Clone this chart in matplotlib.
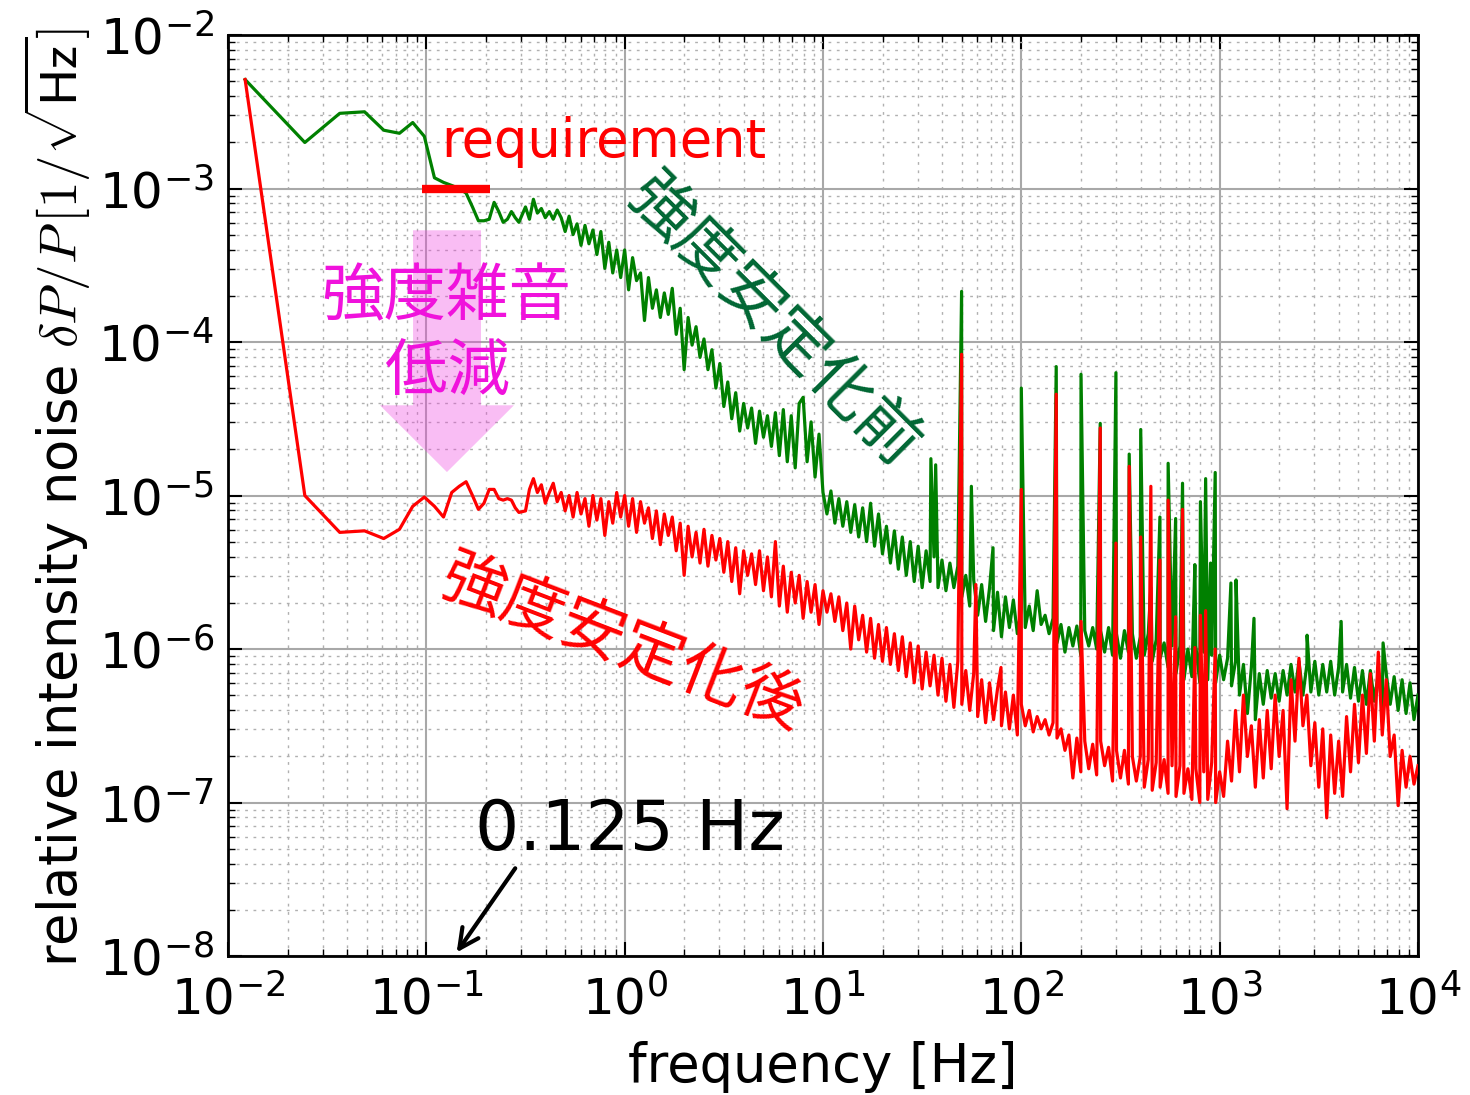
import numpy as np
import matplotlib.pyplot as plt
from matplotlib.patches import Polygon

plt.rcParams['font.family'] = ['DejaVu Sans', 'Noto Sans CJK JP']
plt.rcParams['mathtext.fontset'] = 'cm'

# --- data (values as log10 of dP/P) ---
# low frequency bins, spacing ~0.0122 Hz
low_f = [0.0122, 0.0244, 0.0366, 0.0488, 0.0610, 0.0732, 0.0854, 0.0977,
         0.1099, 0.1221, 0.1343, 0.1465, 0.1587, 0.1709, 0.1831, 0.1953,
         0.2075, 0.2197, 0.2319, 0.2441, 0.2563, 0.2686, 0.2808, 0.2930]
green_low = [-2.29, -2.70, -2.51, -2.50, -2.62, -2.64, -2.57, -2.66,
             -2.93, -2.96, -2.98, -3.00, -3.03, -3.12, -3.21, -3.21,
             -3.20, -3.09, -3.15, -3.22, -3.20, -3.15, -3.19, -3.22]
red_low = [-2.29, -5.00, -5.24, -5.23, -5.28, -5.22, -5.07, -5.01,
           -5.07, -5.14, -4.98, -4.94, -4.91, -5.00, -5.09, -5.05,
           -4.96, -4.96, -5.02, -5.03, -5.02, -5.03, -5.08, -5.11]

green_a = [-3.12, -3.20, -3.07, -3.16, -3.13, -3.19, -3.15, -3.20, -3.14, -3.19,
           -3.28, -3.18, -3.30, -3.23, -3.37, -3.24, -3.36, -3.27, -3.43, -3.28,
           -3.52, -3.35, -3.55, -3.40, -3.58]
green_b = [-3.40, -3.66, -3.45, -3.60, -3.55, -3.86, -3.58, -3.78, -3.66, -3.84,
           -3.68, -3.82, -3.65, -3.95, -3.78, -4.18, -3.84, -4.02, -3.90, -4.10,
           -3.98, -4.18, -4.05, -4.30, -4.14, -4.42, -4.26, -4.50, -4.33, -4.58,
           -4.40, -4.56, -4.43, -4.66, -4.45, -4.62, -4.48, -4.68, -4.46, -4.74,
           -4.44, -4.78, -4.48, -4.82, -4.40, -4.36, -4.78, -4.52, -4.88, -4.60]
green_c = [-4.98, -5.12, -4.97, -5.18, -5.02, -5.20, -5.04, -5.24, -5.06, -5.27,
           -5.08, -5.30, -5.05, -5.33, -5.12, -5.38, -5.20, -5.44, -5.23, -5.48,
           -5.27, -5.52, -5.30, -5.56, -5.33, -5.60, -5.36, -5.56, -5.40, -5.60,
           -5.42, -5.62, -5.44, -5.60, -5.46, -5.66, -5.52, -5.72, -5.55, -5.78,
           -5.58, -5.82, -5.60, -5.88, -5.63, -5.92, -5.66, -5.86, -5.68, -5.90]
green_d = [-5.74, -5.86, -5.72, -5.88, -5.62, -5.84, -5.78, -5.90, -5.80, -5.96,
           -5.84, -6.02, -5.86, -5.98, -5.85, -6.04, -5.88, -5.98, -5.86, -6.00,
           -5.88, -6.02, -5.86, -6.04, -5.90, -6.06, -5.88, -6.02, -5.90, -6.06,
           -5.92, -6.04, -5.90, -6.08, -5.94, -6.06, -5.96, -6.12, -5.98, -6.16,
           -5.98, -6.20, -6.00, -6.18, -5.98, -6.22, -6.02, -6.20, -6.04, -6.22]
green_e = [-6.04, -6.20, -6.06, -6.24, -6.08, -6.30, -6.10, -6.42, -6.12, -6.46,
           -6.16, -6.36, -6.14, -6.32, -6.16, -6.34, -6.14, -6.30, -6.10, -6.28,
           -6.08, -6.30, -6.10, -6.28, -6.08, -6.30, -6.10, -6.28, -6.08, -6.30,
           -6.12, -6.28, -6.10, -6.32, -6.12, -6.34, -6.14, -6.36, -6.14, -6.34,
           -6.16, -6.38, -6.16, -6.36, -6.18, -6.40, -6.20, -6.42, -6.22, -6.46,
           -6.30]

red_a = [-5.10, -4.96, -4.89, -4.98, -4.93, -5.05, -4.98, -4.92, -5.04, -4.98,
         -5.10, -5.00, -5.14, -4.98, -5.12, -5.02, -5.20, -5.00, -5.16, -5.02,
         -5.26, -5.04, -5.18, -4.98, -5.14]
red_b = [-5.00, -5.20, -5.02, -5.24, -5.04, -5.18, -5.08, -5.28, -5.10, -5.32,
         -5.12, -5.26, -5.14, -5.36, -5.18, -5.52, -5.20, -5.40, -5.24, -5.44,
         -5.22, -5.46, -5.26, -5.42, -5.28, -5.50, -5.30, -5.56, -5.34, -5.64,
         -5.36, -5.52, -5.38, -5.58, -5.36, -5.62, -5.40, -5.66, -5.30, -5.72,
         -5.46, -5.76, -5.50, -5.70, -5.52, -5.80, -5.56, -5.76, -5.58, -5.84]
red_c = [-5.62, -5.76, -5.64, -5.82, -5.66, -5.88, -5.70, -6.00, -5.72, -5.94,
         -5.78, -6.02, -5.80, -6.06, -5.84, -6.08, -5.86, -6.10, -5.90, -6.14,
         -5.92, -6.18, -5.96, -6.22, -5.98, -6.26, -6.02, -6.24, -6.04, -6.30,
         -6.06, -6.34, -6.10, -6.38, -6.08, -6.36, -6.14, -6.40, -6.16, -6.44,
         -6.20, -6.48, -6.22, -6.46, -6.26, -6.50, -6.28, -6.52, -6.30, -6.56]
red_d = [-6.36, -6.50, -6.40, -6.54, -6.44, -6.52, -6.46, -6.56, -6.48, -6.58,
         -6.52, -6.66, -6.56, -6.84, -6.58, -6.80, -6.60, -6.78, -6.62, -6.82,
         -6.60, -6.76, -6.64, -6.86, -6.66, -6.84, -6.66, -6.88, -6.70, -6.86,
         -6.70, -6.90, -6.72, -6.92, -6.74, -6.90, -6.72, -6.94, -6.76, -6.96,
         -6.76, -6.94, -6.78, -6.98, -6.78, -7.00, -6.80, -6.98, -6.74, -7.00]
red_e = [-6.80, -6.96, -6.60, -6.86, -6.40, -6.80, -6.30, -6.70, -6.50, -6.90,
         -6.46, -6.84, -6.40, -6.78, -6.30, -6.70, -6.40, -7.04, -6.20, -6.60,
         -6.06, -6.50, -6.30, -6.76, -6.48, -6.90, -6.52, -7.10, -6.56, -6.94,
         -6.60, -6.96, -6.44, -6.80, -6.36, -6.74, -6.30, -6.68, -6.16, -6.60,
         -6.02, -6.56, -6.20, -6.70, -6.56, -7.02, -6.66, -6.90, -6.70, -6.88,
         -6.76]

# line peaks (power line harmonics etc.)
green_spike_f = [35, 37, 50, 56, 72, 100, 150, 200, 250, 300, 350, 400, 450, 500,
                 550, 600, 650, 750, 800, 850, 900, 950, 1140, 1210, 1490, 2760,
                 4100, 6670]
green_spike = [-4.76, -4.80, -3.67, -4.94, -5.34, -4.30, -4.16, -4.21, -4.53, -4.20,
               -4.73, -4.57, -5.60, -5.14, -4.79, -5.15, -4.92, -5.45, -5.04, -4.89,
               -5.44, -4.85, -5.57, -5.55, -5.80, -5.91, -5.82, -5.96]
red_spike_f = [50, 59, 79, 100, 150, 200, 250, 300, 350, 400, 450, 500, 550, 600,
               650, 750, 800, 850, 950]
red_spike = [-4.08, -5.58, -6.12, -4.96, -4.34, -5.82, -4.56, -5.31, -4.81, -5.27,
             -4.94, -5.42, -5.03, -5.79, -5.09, -5.99, -5.78, -5.75, -6.00]

req_f = [0.095, 0.21]
req_val = [1e-3, 1e-3]


def build(low, band, spike_f, spike):
    grid_f = np.logspace(-0.5, 4, len(band))
    f = np.concatenate([low_f, grid_f, spike_f])
    v = 10.0 ** np.concatenate([low, band, spike])
    idx = np.argsort(f)
    return f[idx], v[idx]


green_f, green_v = build(green_low, green_a + green_b + green_c + green_d + green_e,
                         green_spike_f, green_spike)
red_f, red_v = build(red_low, red_a + red_b + red_c + red_d + red_e,
                     red_spike_f, red_spike)

# --- figure ---
fig = plt.figure(figsize=(14.7, 10.95), dpi=100)
ax = fig.add_axes([0.1551, 0.1269, 0.8095, 0.8411])

ax.plot(green_f, green_v, color='#008000', lw=2.3, zorder=4)
ax.plot(red_f, red_v, color='#ff0000', lw=2.3, zorder=5)
ax.plot(req_f, req_val, color='#ff0000', lw=6, solid_capstyle='butt', zorder=5)

ax.set_xscale('log')
ax.set_yscale('log')
ax.set_xlim(1e-2, 1e4)
ax.set_ylim(1e-8, 1e-2)

ax.grid(True, which='major', color='#a8a8a8', lw=1.5, ls='-')
ax.grid(True, which='minor', color='#b0b0b0', lw=1.0, ls=(0, (2, 4)))
ax.set_axisbelow(True)
ax.tick_params(which='both', direction='in', top=True, right=True)
ax.tick_params(which='major', length=10, width=1.5, labelsize=36)
ax.tick_params(axis='x', which='major', pad=14)
ax.tick_params(axis='y', which='major', pad=10)
ax.tick_params(which='minor', length=5, width=1)
for s in ax.spines.values():
    s.set_linewidth(2)

ax.set_xlabel('frequency [Hz]', fontsize=38)
ax.xaxis.set_label_coords(0.5, -0.12)
ax.xaxis.label.set_va('center')
ax.set_ylabel(r'relative intensity noise $\delta P/P\,[1/\sqrt{\mathsf{Hz}}]$', fontsize=38)
ax.yaxis.set_label_coords(-0.143, 0.498)
ax.yaxis.label.set_va('center')

# pink "reduction" arrow (axes fraction)
arrow = Polygon([(0.1555, 0.788), (0.2126, 0.788), (0.2126, 0.598), (0.2403, 0.598),
                 (0.184, 0.5255), (0.1277, 0.598), (0.1555, 0.598)],
                closed=True, transform=ax.transAxes, facecolor='#f040e0',
                edgecolor='none', alpha=0.34, zorder=3)
ax.add_patch(arrow)

jp = ['Noto Sans CJK JP', 'DejaVu Sans']
ax.text(0.1256, 1.96e-4, '強度雑音', color='#f012dc', fontsize=45, family=jp,
        ha='center', va='center', zorder=6)
ax.text(0.1285, 6.4e-5, '低減', color='#f012dc', fontsize=45, family=jp,
        ha='center', va='center', zorder=6)
ax.text(5.53, 1.35e-4, '強度安定化前', color='#006633', fontsize=46, family=jp,
        rotation=-45, rotation_mode='anchor', ha='center', va='center', zorder=6)
ax.text(0.97, 1.06e-6, '強度安定化後', color='#ff0000', fontsize=46, family=jp,
        rotation=-21, rotation_mode='anchor', ha='center', va='center', zorder=6)
ax.text(0.787, 2.0e-3, 'requirement', color='#ff0000', fontsize=38,
        ha='center', va='center', zorder=6)
ax.text(1.06, 6.6e-8, '0.125 Hz', color='black', fontsize=50,
        ha='center', va='center', zorder=6)
ax.annotate('', xy=(0.1396, 1.02e-8), xytext=(0.286, 3.86e-8),
            arrowprops=dict(arrowstyle='->', color='black', lw=3, mutation_scale=35),
            zorder=6)

fig.savefig('out.png', dpi=100)
